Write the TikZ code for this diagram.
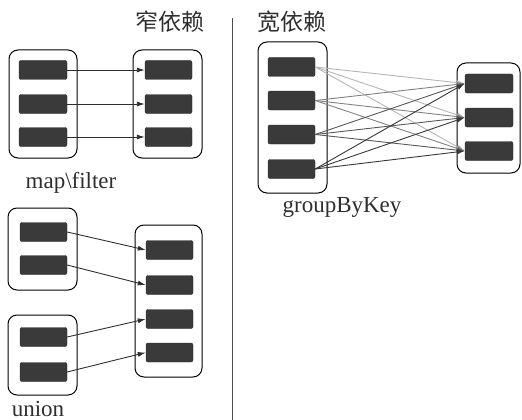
\documentclass[tikz,border=0pt]{standalone}
\usepackage{fontspec}
\setmainfont{Liberation Serif}
\newfontfamily\cjk{Noto Sans CJK SC}
\usetikzlibrary{arrows.meta}
\definecolor{partgray}{HTML}{3A3A3A}
\definecolor{inkgray}{HTML}{2E2E2E}
\tikzstyle{rdd} = [draw=black, line width=1pt, rectangle, rounded corners=9pt, inner sep=0pt]
\tikzstyle{part} = [fill=partgray, draw=partgray!70!black, rectangle, rounded corners=2pt, minimum width=48pt, minimum height=19pt, inner sep=0pt]
\tikzstyle{dep} = [-{Latex[length=8pt,width=5pt]}, line width=0.9pt, draw=inkgray]
\tikzstyle{caption} = [text=inkgray, font=\fontsize{23}{26}\selectfont]

\begin{document}
\begin{tikzpicture}[x=1pt,y=-1pt]
\useasboundingbox (0,0) rectangle (522,420);

% narrow: map\filter
\node[rdd, minimum width=68pt, minimum height=108pt] (mapin) at (43,104) {};
\node[rdd, minimum width=69pt, minimum height=108pt] (mapout) at (167.5,104) {};
\foreach \i/\y in {1/70,2/104,3/137} {
    \node[part] (mi\i) at (43,\y) {};
    \node[part, minimum width=47pt] (mo\i) at (168.5,\y) {};
    \draw[dep] (mi\i) -- (mo\i);
}
\node[caption] (narrow) at (170,22) {\cjk 窄依赖};
\node[caption] (maplabel) at (71,183) {map\textbackslash filter};

% narrow: union
\node[rdd, minimum width=69pt, minimum height=82pt] (unA) at (42.5,249) {};
\node[rdd, minimum width=69pt, minimum height=80pt] (unB) at (42.5,355) {};
\node[rdd, minimum width=67pt, minimum height=152pt] (unout) at (168.5,301) {};
\node[part, minimum width=47pt] (ui1) at (43.5,232) {};
\node[part, minimum width=47pt] (ui2) at (43.5,265) {};
\node[part, minimum width=47pt] (ui3) at (43.5,337) {};
\node[part, minimum width=47pt] (ui4) at (43.5,372) {};
\foreach \i/\y in {1/250,2/285,3/319,4/352.5} {
    \node[part, minimum width=47pt] (uo\i) at (169.5,\y) {};
    \draw[dep] (ui\i.east) -- (uo\i.west);
}
\node[caption] (unionlabel) at (38,409) {union};

% divider
\coordinate (divtop) at (232,18);
\coordinate (divbot) at (232,420);
\draw[line width=1pt, draw=black!70] (divtop) -- (divbot);

% wide: groupByKey
\node[rdd, minimum width=69pt, minimum height=151pt] (gbin) at (292.5,117.5) {};
\node[rdd, minimum width=63pt, minimum height=110pt] (gbout) at (488.5,118) {};
\foreach \i/\y in {1/67,2/100.5,3/134.5,4/169}
    \node[part, minimum width=47pt] (gi\i) at (291.5,\y) {};
\foreach \j/\y in {1/83.5,2/117.5,3/151}
    \node[part] (go\j) at (489,\y) {};
\foreach \i/\shade in {1/35,2/60,3/80,4/95}
    \foreach \j in {1,2,3}
        \draw[dep, draw=inkgray!\shade] (gi\i.east) -- (go\j.west);
\node[caption] (wide) at (292,22) {\cjk 宽依赖};
\node[caption] (gblabel) at (342,207) {groupByKey};
\end{tikzpicture}
\end{document}
